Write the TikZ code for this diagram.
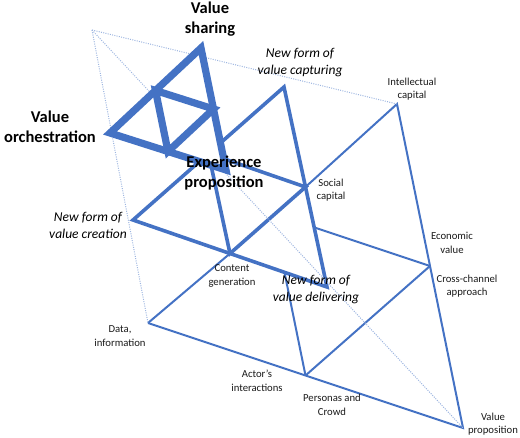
\documentclass[tikz,border=0pt]{standalone}
\usepackage{fontspec}
\setmainfont{Carlito}
\usetikzlibrary{calc}
\definecolor{obl}{HTML}{4472C4}
\definecolor{dotbl}{HTML}{9DB5E0}
\definecolor{txt}{HTML}{1A1A1A}
\begin{document}
\begin{tikzpicture}[x=1pt,y=-1pt,
 thinln/.style={draw=obl,line width=2pt},
 medln/.style={draw=obl,line width=3.6pt},
 thickln/.style={draw=obl,line width=7.2pt},
 dotln/.style={draw=dotbl,line width=1pt,dash pattern=on 1pt off 1.3pt},
 bigtxt/.style={font=\fontsize{16.5}{20}\selectfont\bfseries,align=center,text=black,inner sep=0pt},
 itxt/.style={font=\fontsize{13.5}{17}\selectfont\itshape,align=center,text=black,inner sep=0pt},
 smtxt/.style={font=\fontsize{10.7}{13.5}\selectfont,align=center,text=txt,inner sep=0pt}]
\useasboundingbox (0,0) rectangle (520,438);
% apex
\coordinate (A) at (92,30);
% level 1
\coordinate (D1) at (148,323);
\coordinate (IC) at (397,104);
\coordinate (VP) at (463,428);
\coordinate (PC) at ($(D1)!0.5!(VP)$);
\coordinate (CC) at ($(IC)!0.5!(VP)$);
\coordinate (M1) at ($(D1)!0.5!(IC)$);
% level 2
\coordinate (L2) at (133,220);
\coordinate (T2) at (284,87);
\coordinate (R2) at (327,287);
\coordinate (CG) at ($(L2)!0.5!(R2)$);
\coordinate (SC) at ($(T2)!0.5!(R2)$);
\coordinate (M2) at ($(L2)!0.5!(T2)$);
% level 3
\coordinate (L3) at (110,133);
\coordinate (T3) at (201,48);
\coordinate (R3) at (226,170);
\coordinate (N1) at ($(L3)!0.5!(T3)$);
\coordinate (N2) at ($(T3)!0.5!(R3)$);
\coordinate (N3) at ($(L3)!0.5!(R3)$);
% level 1 lines
\draw[thinln] (D1) -- (CG);
\draw[thinln] (SC) -- (IC) -- (VP) -- (D1);
\draw[thinln] (PC) -- (CC);
\draw[thinln] (PC) -- (M1);
\draw[thinln] (CC) -- (M1);
% level 2
\fill[white] (L2) -- (T2) -- (R2) -- cycle;
\draw[medln] (L2) -- (T2) -- (R2) -- cycle;
\draw[medln] (CG) -- (SC) -- (M2) -- cycle;
% dotted edges of the pyramid
\draw[dotln] (A) -- (D1);
\draw[dotln] (A) -- (IC);
\draw[dotln] (A) -- (VP);
% level 3
\fill[white] (L3) -- (T3) -- (R3) -- cycle;
\draw[thickln] (L3) -- (T3) -- (R3) -- cycle;
\draw[thickln] (N1) -- (N2) -- (N3) -- cycle;
% labels
\node[bigtxt] (tVS) at (210,19) {Value\\sharing};
\node[bigtxt] (tVO) at (50,127) {Value\\orchestration};
\node[bigtxt] (tEP) at (224,173) {Experience\\proposition};
\node[itxt] (tCap) at (300,63) {New form of\\value capturing};
\node[itxt] (tCre) at (88,225) {New form of\\value creation};
\node[itxt] (tDel) at (316,290) {New form of\\value delivering};
\node[smtxt] (tIC) at (412,89) {Intellectual\\capital};
\node[smtxt] (tSC) at (331,190) {Social\\capital};
\node[smtxt] (tEV) at (452,243) {Economic\\value};
\node[smtxt] (tCC) at (467,286) {Cross-channel\\approach};
\node[smtxt] (tVP) at (493,424) {Value\\proposition};
\node[smtxt] (tPC) at (332,405) {Personas and\\Crowd};
\node[smtxt] (tAI) at (257,381) {Actor's\\interactions};
\node[smtxt] (tDI) at (120,336) {Data,\\information};
\node[smtxt] (tCG) at (232,276) {Content\\generation};
\end{tikzpicture}
\end{document}
